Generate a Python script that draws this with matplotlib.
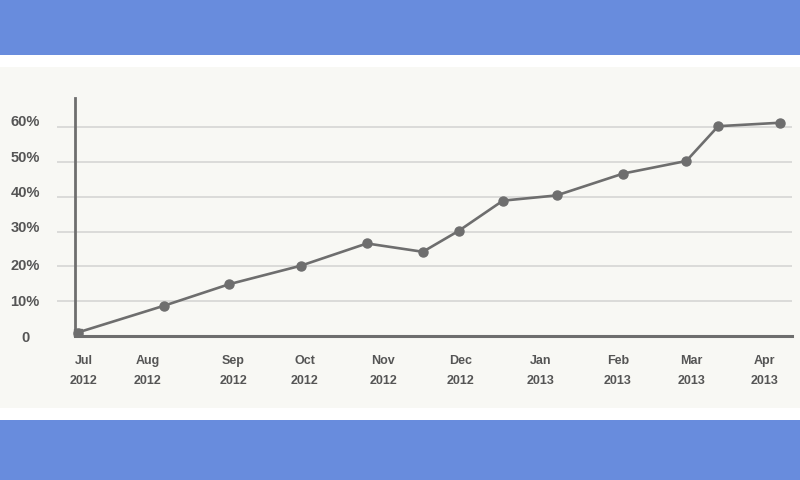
import matplotlib.pyplot as plt
from matplotlib.patches import Rectangle

# x in months counted from Jul 2012
months = [0.10, 1.21, 2.05, 2.97, 3.82, 4.54, 5.00, 5.57, 6.26, 7.12, 7.93, 8.34, 9.14]
values = [1.0, 8.7, 14.9, 20.2, 26.6, 24.2, 30.2, 38.9, 40.4, 46.7, 50.3, 60.3, 61.3]

tick_pos = [0.18, 1.0, 2.10, 3.02, 4.03, 5.03, 6.05, 7.05, 8.0, 8.94]
tick_labels = ['Jul\n2012', 'Aug\n2012', 'Sep\n2012', 'Oct\n2012', 'Nov\n2012',
               'Dec\n2012', 'Jan\n2013', 'Feb\n2013', 'Mar\n2013', 'Apr\n2013']
grid_y = [10, 20, 30, 40, 50, 60]
y_labels = ['0', '10%', '20%', '30%', '40%', '50%', '60%']
# the labels sit a little off the gridlines in the original
y_label_pos = [-0.6, 9.9, 20.1, 31.0, 41.0, 51.3, 61.6]

BLUE = '#688cdd'
PANEL = '#f8f8f4'
TEXT = '#555555'
LINE = '#6e6e6e'

plt.rcParams['font.family'] = ['Liberation Sans', 'DejaVu Sans']

fig = plt.figure(figsize=(8, 4.8), dpi=100, facecolor=BLUE)
# white band and off-white panel behind the chart
fig.add_artist(Rectangle((0, 0.125), 1, 0.7604, transform=fig.transFigure,
                         facecolor='white', edgecolor='none', zorder=-10))
fig.add_artist(Rectangle((0, 0.15), 1, 0.7104, transform=fig.transFigure,
                         facecolor=PANEL, edgecolor='none', zorder=-9))

ax = fig.add_axes([0.07125, 0.3, 0.91875, 0.4958])
ax.set_facecolor('none')
ax.set_xlim(-0.167, 9.29)
ax.set_ylim(0, 68.4)
for s in ax.spines.values():
    s.set_visible(False)

for y in grid_y:
    ax.axhline(y, color='#d6d6d4', lw=1.2, zorder=1)

x_axis = 0.064
ax.plot([x_axis, x_axis], [0, 68.4], color=LINE, lw=2, zorder=2, clip_on=False)
ax.plot([x_axis, 9.29], [0, 0], color=LINE, lw=2.2, zorder=2, clip_on=False)

ax.plot(months, values, color=LINE, lw=1.9, marker='o', markersize=6.5, zorder=3)
ax.plot(months[0], values[0], color=LINE, marker='s', markersize=6, zorder=3)

ax.set_xticks(tick_pos)
ax.set_xticklabels(tick_labels, fontsize=9, fontweight='bold', color=TEXT, linespacing=1.8)
ax.tick_params(axis='x', length=0, pad=14)

ax.set_yticks([])
for lab, yp in zip(y_labels, y_label_pos):
    ax.text(-0.0435, yp, lab, transform=ax.get_yaxis_transform(), ha='center', va='center',
            fontsize=10.5, fontweight='bold', color=TEXT, clip_on=False)

plt.savefig('out.png', dpi=100, facecolor=BLUE)
